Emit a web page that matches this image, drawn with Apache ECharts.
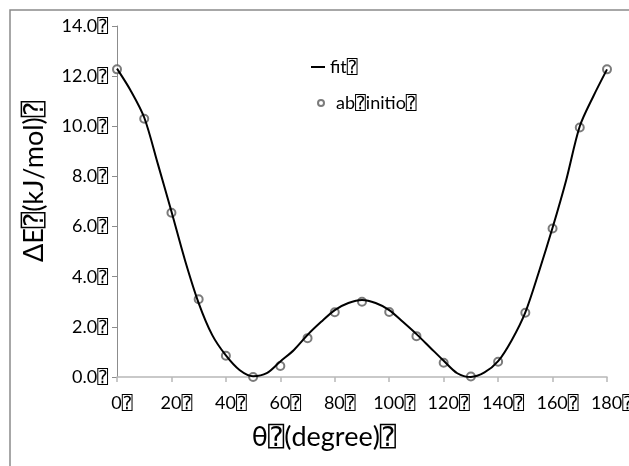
<!DOCTYPE html>
<html>
<head>
<meta charset="utf-8">
<script src="https://cdn.jsdelivr.net/npm/echarts@6/dist/echarts.min.js"></script>
<style>html,body{margin:0;padding:0;background:#fff}#c{width:629px;height:466px}</style>
</head>
<body>
<div id="c"></div>
<script>
// ab initio points
var thetaObs = [0, 10, 20, 30, 40, 50, 60, 70, 80, 90, 100, 110, 120, 130, 140, 150, 160, 170, 180];
var abInitio = [12.27, 10.3, 6.55, 3.1, 0.85, 0.0, 0.44, 1.55, 2.58, 3.0, 2.59, 1.63, 0.57, 0.02, 0.61, 2.56, 5.92, 9.95, 12.27];
// fit curve
var thetaFit = [0, 5, 10, 15, 20, 25, 30, 35, 40, 45, 50, 55, 60, 65, 70, 75, 80, 85, 90, 95, 100, 105, 110, 115, 120, 125, 130, 135, 140, 145, 150, 155, 160, 165, 170, 175, 180];
var fitValues = [12.3, 11.43, 10.35, 8.5, 6.6, 4.65, 2.95, 1.67, 0.86, 0.28, 0.03, 0.15, 0.62, 1.08, 1.68, 2.2, 2.67, 2.95, 3.07, 2.95, 2.67, 2.2, 1.71, 1.18, 0.65, 0.15, 0.0, 0.18, 0.63, 1.47, 2.58, 4.2, 5.95, 7.85, 10.0, 11.2, 12.27];
// ticks
var xTicks = {min: 0, max: 180, interval: 20};
var yTicks = {min: 0, max: 14, interval: 2};
var BOX = '\u2370';
var FONT = "Lato, 'DejaVu Sans', 'DejaVu Sans Mono', sans-serif";

var chart = echarts.init(document.getElementById('c'), null, {renderer: 'canvas'});
var fitData = thetaFit.map(function (t, i) { return [t, fitValues[i]]; });
var obsData = thetaObs.map(function (t, i) { return [t, abInitio[i]]; });

chart.setOption({
  animation: false,
  backgroundColor: '#fff',
  graphic: [{
    type: 'rect', silent: true,
    shape: {x: 10, y: 10, width: 700, height: 600},
    style: {fill: 'none', stroke: '#8a8a8a', lineWidth: 1.5}
  }],
  grid: {left: 117, top: 26, right: 22, bottom: 89, containLabel: false, outerBoundsMode: 'none'},
  legend: [{
    left: 306, top: 53, orient: 'vertical',
    itemWidth: 14, itemHeight: 2,
    data: [{name: 'fit', icon: 'rect'}],
    formatter: function (n) { return n + BOX; },
    textStyle: {fontFamily: FONT, fontSize: 18, color: '#000'}
  }, {
    left: 312, top: 89, orient: 'vertical',
    itemWidth: 6, itemHeight: 6,
    data: [{name: 'ab initio', icon: 'emptyCircle'}],
    formatter: function () { return 'ab' + BOX + 'initio' + BOX; },
    textStyle: {fontFamily: FONT, fontSize: 18, color: '#000', padding: [0, 0, 0, 7]}
  }],
  xAxis: {
    type: 'value', min: xTicks.min, max: xTicks.max, interval: xTicks.interval,
    name: '\u03b8' + BOX + '(degree)' + BOX,
    nameLocation: 'middle', nameGap: 47,
    nameTextStyle: {fontFamily: FONT, fontSize: 27, color: '#000', padding: [0, 76, 0, 0]},
    axisLine: {show: true, onZero: false, lineStyle: {color: '#b8b8b8', width: 1.5}},
    axisTick: {show: true, length: 5, lineStyle: {color: '#b8b8b8', width: 1.5}},
    axisLabel: {
      margin: 17, fontFamily: FONT, fontSize: 18, color: '#000', padding: [0, 0, 0, 10],
      formatter: function (v) { return v + BOX; }
    },
    splitLine: {show: false}
  },
  yAxis: {
    type: 'value', min: yTicks.min, max: yTicks.max, interval: yTicks.interval,
    name: '\u0394E' + BOX + '(kJ/mol)' + BOX,
    nameLocation: 'middle', nameGap: 69,
    nameTextStyle: {fontFamily: FONT, fontSize: 27, color: '#000', padding: [0, 0, 0, 40]},
    axisLine: {show: true, lineStyle: {color: '#8c8c8c', width: 1}},
    axisTick: {show: true, length: 5, lineStyle: {color: '#8c8c8c', width: 1}},
    axisLabel: {
      margin: 9, fontFamily: FONT, fontSize: 18, color: '#000',
      formatter: function (v) { return v.toFixed(1) + BOX; }
    },
    splitLine: {show: false}
  },
  series: [{
    name: 'fit', type: 'line', data: fitData, smooth: 0.3,
    showSymbol: false, symbol: 'none',
    itemStyle: {color: '#000'},
    lineStyle: {color: '#000', width: 2}
  }, {
    name: 'ab initio', type: 'scatter', data: obsData,
    symbol: 'emptyCircle', symbolSize: 8,
    itemStyle: {color: '#5a5a5a', borderColor: '#5a5a5a', borderWidth: 1}
  }]
});
</script>
</body>
</html>
